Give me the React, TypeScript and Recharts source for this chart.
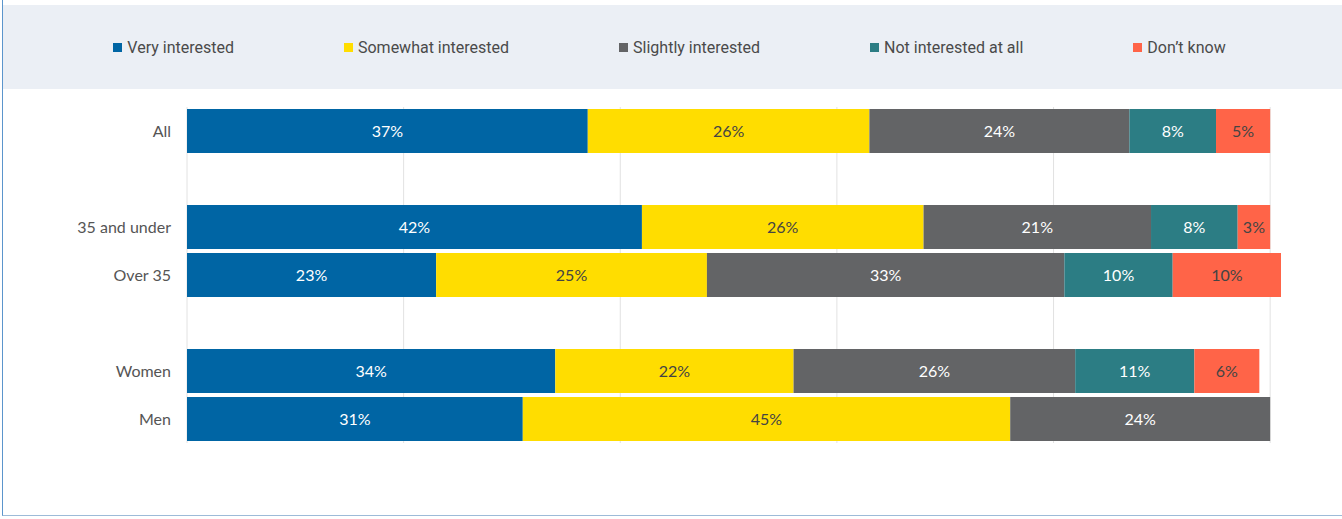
import { BarChart, Bar, XAxis, YAxis, CartesianGrid, Legend, LabelList } from 'recharts';

const groups = ['All', '', '35 and under', 'Over 35', ' ', 'Women', 'Men'];
const veryInterested = [37, null, 42, 23, null, 34, 31];
const somewhatInterested = [26, null, 26, 25, null, 22, 45];
const slightlyInterested = [24, null, 21, 33, null, 26, 24];
const notInterested = [8, null, 8, 10, null, 11, null];
const dontKnow = [5, null, 3, 10, null, 6, null];
const xTicks = [0, 20, 40, 60, 80, 100];

const series = [
  { key: 'very', name: 'Very interested', color: '#0065A4', text: '#ffffff', values: veryInterested },
  { key: 'somewhat', name: 'Somewhat interested', color: '#FFDD00', text: '#444444', values: somewhatInterested },
  { key: 'slightly', name: 'Slightly interested', color: '#636466', text: '#ffffff', values: slightlyInterested },
  { key: 'notAtAll', name: 'Not interested at all', color: '#2C7D84', text: '#ffffff', values: notInterested },
  { key: 'dontKnow', name: 'Don\u2019t know', color: '#FF6448', text: '#444444', values: dontKnow },
];

const data = groups.map((name, i) => {
  const row: any = { name };
  series.forEach((s) => {
    row[s.key] = s.values[i];
  });
  return row;
});

function LegendBand() {
  return (
    <div
      style={{
        display: 'flex',
        justifyContent: 'center',
        alignItems: 'center',
        gap: 110,
        height: 84,
        background: '#EBEFF5',
        fontFamily: 'Roboto, sans-serif',
        fontSize: 16,
        color: '#4a4a4a',
        paddingRight: 6,
      }}
    >
      {series.map((s) => (
        <div key={s.key} style={{ display: 'flex', alignItems: 'center' }}>
          <span style={{ width: 9, height: 9, background: s.color, marginRight: 5, display: 'inline-block' }} />
          <span>{s.name}</span>
        </div>
      ))}
    </div>
  );
}

const pct = (v: any) => (v === null || v === undefined ? '' : `${v}%`);

// only draw grid lines at the listed ticks (not at the plot's right edge)
const gridX = ({ xAxis }: any) => {
  const sc = xAxis && xAxis.scale;
  const fn = sc && typeof sc.map === 'function' ? (v: number) => sc.map(v) : sc;
  return xTicks.map((t) => fn(t));
};

export default function App() {
  return (
    <div style={{ position: 'absolute', left: 0, top: 0, width: 1342, height: 519, background: '#fff', overflow: 'hidden' }}>
      <div
        style={{
          position: 'absolute',
          left: 2,
          top: -2,
          width: 1350,
          height: 518,
          borderLeft: '1px solid #5B95CC',
          borderBottom: '1px solid #9DBBD8',
          boxSizing: 'border-box',
          pointerEvents: 'none',
          zIndex: 2,
        }}
      />
      <BarChart
        width={1342}
        height={519}
        data={data}
        layout="vertical"
        margin={{ top: 107, right: 61, left: 0, bottom: 76 }}
        barSize={44}
        style={{ fontFamily: 'Lato, sans-serif' }}
      >
        <CartesianGrid horizontal={false} vertical={true} stroke="#e2e2e2" verticalCoordinatesGenerator={gridX} />
        <XAxis type="number" domain={[0, 101]} ticks={xTicks} hide />
        <YAxis
          type="category"
          dataKey="name"
          width={187}
          axisLine={false}
          tickLine={false}
          tickMargin={10}
          tick={{ fill: '#555555', fontSize: 16 }}
        />
        <Legend
          verticalAlign="middle"
          align="center"
          wrapperStyle={{ top: 5, left: 3, width: 1339, height: 84 }}
          content={() => <LegendBand />}
        />
        {series.map((s) => (
          <Bar key={s.key} dataKey={s.key} name={s.name} stackId="a" fill={s.color} isAnimationActive={false}>
            <LabelList dataKey={s.key} position="center" fill={s.text} fontSize={16} formatter={pct} />
          </Bar>
        ))}
      </BarChart>
    </div>
  );
}
